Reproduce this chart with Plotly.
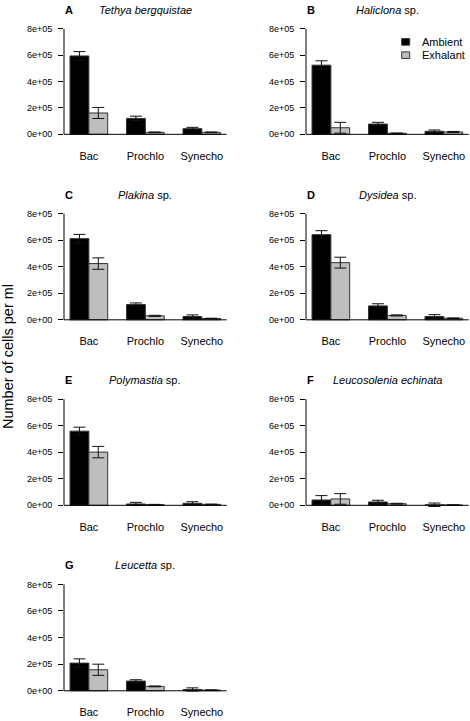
import plotly.graph_objects as go

# ---------------- data ----------------
categories = ["Bac", "Prochlo", "Synecho"]
panel_letters = ["A", "B", "C", "D", "E", "F", "G"]
species_titles = [
    "<i>Tethya bergquistae</i>",
    "<i>Haliclona</i> sp.",
    "<i>Plakina</i> sp.",
    "<i>Dysidea</i> sp.",
    "<i>Polymastia</i> sp.",
    "<i>Leucosolenia echinata</i>",
    "<i>Leucetta</i> sp.",
]
series_names = ["Ambient", "Exhalant"]

A_ambient = [595000, 121000, 43000]
A_ambient_err = [33000, 17000, 10000]
A_exhalant = [162000, 15000, 15000]
A_exhalant_err = [42000, 3000, 3000]

B_ambient = [525000, 78000, 23000]
B_ambient_err = [33000, 13000, 10000]
B_exhalant = [50000, 8000, 18000]
B_exhalant_err = [41000, 2000, 4000]

C_ambient = [612000, 115000, 25000]
C_ambient_err = [32000, 12000, 12000]
C_exhalant = [424000, 30000, 10000]
C_exhalant_err = [43000, 4000, 2000]

D_ambient = [642000, 105000, 25000]
D_ambient_err = [30000, 16000, 14000]
D_exhalant = [431000, 33000, 12000]
D_exhalant_err = [41000, 4000, 2000]

E_ambient = [559000, 10000, 15000]
E_ambient_err = [30000, 12000, 12000]
E_exhalant = [401000, 5000, 7000]
E_exhalant_err = [43000, 2000, 2000]

F_ambient = [40000, 25000, 4000]
F_ambient_err = [33000, 13000, 13000]
F_exhalant = [48000, 12000, 2000]
F_exhalant_err = [40000, 3000, 1000]

G_ambient = [208000, 73000, 10000]
G_ambient_err = [32000, 10000, 12000]
G_exhalant = [158000, 33000, 5000]
G_exhalant_err = [42000, 3000, 2000]

y_tickvals = [0, 200000, 400000, 600000, 800000]
y_ticktext = ["0e+00", "2e+05", "4e+05", "6e+05", "8e+05"]

panels = [
    (A_ambient, A_ambient_err, A_exhalant, A_exhalant_err),
    (B_ambient, B_ambient_err, B_exhalant, B_exhalant_err),
    (C_ambient, C_ambient_err, C_exhalant, C_exhalant_err),
    (D_ambient, D_ambient_err, D_exhalant, D_exhalant_err),
    (E_ambient, E_ambient_err, E_exhalant, E_exhalant_err),
    (F_ambient, F_ambient_err, F_exhalant, F_exhalant_err),
    (G_ambient, G_ambient_err, G_exhalant, G_exhalant_err),
]

# ---------------- layout geometry (pixels) ----------------
W, H = 470, 721
FONT = "Liberation Sans, Arial, Helvetica, sans-serif"
col_px = [(64, 226.7), (306, 468.7)]
row_px = [(28, 133.7), (213.3, 319.7), (399.3, 505.7), (585, 691.7)]  # y of 8e5 tick, y of 0
colors = ["#000000", "#BEBEBE"]
YMAX = 800000
ext = 0.04

fig = go.Figure()
layout = dict(
    width=W, height=H,
    margin=dict(l=0, r=0, t=0, b=0),
    paper_bgcolor="white", plot_bgcolor="white",
    showlegend=False,
    barmode="group", bargap=1/3, bargroupgap=0,
    font=dict(family=FONT, color="black"),
)
annotations = []
shapes = []

for i, (amb, amb_e, exh, exh_e) in enumerate(panels):
    r, c = divmod(i, 2)
    n = i + 1
    xa = "x" if n == 1 else f"x{n}"
    ya = "y" if n == 1 else f"y{n}"
    x0p, x1p = col_px[c]
    p8, p0 = row_px[r]
    span = p0 - p8
    top = p8 - ext * span
    bot = p0 + ext * span

    for vals, errs, name, col in [(amb, amb_e, series_names[0], colors[0]),
                                  (exh, exh_e, series_names[1], colors[1])]:
        fig.add_trace(go.Bar(
            x=categories, y=vals, name=name, xaxis=xa, yaxis=ya,
            marker=dict(color=col, line=dict(color="#333333", width=1)),
            error_y=dict(type="data", array=errs, visible=True,
                         color="#111111", thickness=1, width=6),
        ))

    layout["xaxis" if n == 1 else f"xaxis{n}"] = dict(
        domain=[x0p / W, x1p / W], anchor=ya,
        type="category", range=[-0.44, 2.44],
        showline=False, showgrid=False, zeroline=False,
        ticks="", ticklabelstandoff=9,
        tickfont=dict(family=FONT, size=11, color="black"),
    )
    layout["yaxis" if n == 1 else f"yaxis{n}"] = dict(
        domain=[1 - bot / H, 1 - top / H], anchor=xa,
        range=[-ext * YMAX, YMAX * (1 + ext)],
        showline=False, showgrid=False, zeroline=False,
        tickvals=y_tickvals, ticktext=y_ticktext,
        ticks="outside", ticklen=5, tickwidth=1, tickcolor="black",
        ticklabelstandoff=4,
        tickfont=dict(family=FONT, size=9, color="black"),
    )
    # y axis line from 0 to 8e5
    shapes.append(dict(type="line", xref=f"{xa} domain", yref=ya,
                       x0=0, x1=0, y0=0, y1=YMAX,
                       line=dict(color="black", width=1)))
    # baseline at zero
    shapes.append(dict(type="line", xref=f"{xa} domain", yref=ya,
                       x0=0, x1=1, y0=0, y1=0,
                       line=dict(color="black", width=1)))
    # titles
    ty = 1 - (p8 - 19) / H
    annotations.append(dict(text="<b>" + panel_letters[i] + "</b>", xref="paper", yref="paper",
                            x=(x0p - 1) / W, y=ty, xanchor="left", yanchor="middle",
                            showarrow=False, font=dict(family=FONT, size=11, color="black")))
    annotations.append(dict(text=species_titles[i], xref="paper", yref="paper",
                            x=(x0p + x1p) / 2 / W, y=ty, xanchor="center", yanchor="middle",
                            showarrow=False, font=dict(family=FONT, size=11, color="black")))

# legend (in panel B)
leg_items = [(series_names[0], colors[0], 41), (series_names[1], colors[1], 54.3)]
for name, col, cy in leg_items:
    shapes.append(dict(type="rect", xref="paper", yref="paper",
                       x0=401.7 / W, x1=409.7 / W,
                       y0=1 - (cy + 3.3) / H, y1=1 - (cy - 3.3) / H,
                       fillcolor=col, line=dict(color="#333333", width=1)))
    annotations.append(dict(text=name, xref="paper", yref="paper",
                            x=419.5 / W, y=1 - cy / H, xanchor="left", yanchor="middle",
                            showarrow=False, font=dict(family=FONT, size=11, color="black")))

# common y label
annotations.append(dict(text="Number of cells per ml", xref="paper", yref="paper",
                        x=8 / W, y=1 - 357 / H, xanchor="center", yanchor="middle",
                        textangle=-90, showarrow=False,
                        font=dict(family=FONT, size=14.5, color="black")))

layout["annotations"] = annotations
layout["shapes"] = shapes
fig.update_layout(**layout)
fig.write_html(
    "out.html",
    config={"displayModeBar": False, "staticPlot": True},
    post_script="document.body.style.margin='0';document.body.style.padding='0';"
                "document.body.style.overflow='hidden';"
                "document.documentElement.style.overflow='hidden';",
)
